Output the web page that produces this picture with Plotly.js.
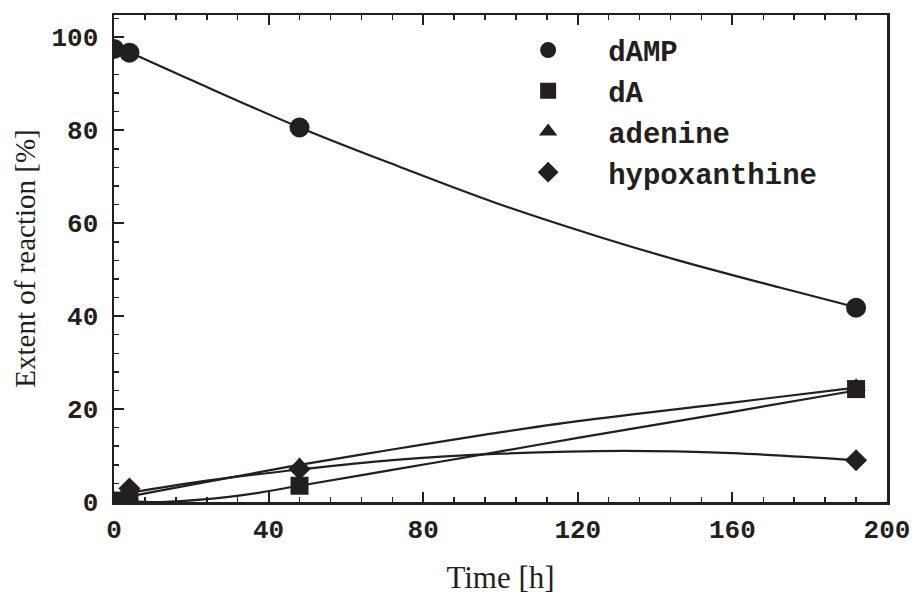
<!DOCTYPE html>
<html>
<head>
<meta charset="utf-8">
<script src="https://cdn.plot.ly/plotly-3.0.1.min.js"></script>
<style>html,body{margin:0;padding:0;background:#fff;}#chart{width:912px;height:595px;}</style>
</head>
<body>
<div id="chart"></div>
<script>
// Measured data points
const hours = [0, 4, 48, 192];
const dAMP = [97.5, 96.7, 80.6, 41.8];
const dA = [0.3, 0.5, 3.5, 24.3];
const adenine = [0.2, 0.8, 7.8, 24.8];
const hypoxanthine = [0.0, 2.9, 7.1, 9.0];

// Fitted curves
const fitDAMPTime = [0, 4, 20, 48, 74, 99, 125, 146, 172, 192];
const fitDAMP = [98.3, 96.8, 90.8, 80.6, 72.1, 64.3, 57.2, 52.0, 46.2, 41.9];
const fitDATime = [4, 12, 24, 36, 48, 72, 100, 120, 160, 192];
const fitDA = [0.2, 0.0, 0.6, 1.8, 3.5, 6.9, 10.9, 13.8, 19.4, 24.0];
const fitAdenineTime = [4, 25, 48, 72, 96, 120, 160, 192];
const fitAdenine = [1.2, 4.5, 8.0, 11.3, 14.5, 17.4, 21.4, 24.6];
const fitHypTime = [4, 25, 48, 72, 100, 132, 160, 192];
const fitHyp = [2.0, 4.7, 7.0, 9.0, 10.4, 11.0, 10.5, 9.0];

const xTicks = [0, 40, 80, 120, 160, 200];
const yTicks = [0, 20, 40, 60, 80, 100];

const ink = '#231f20';

function fit(x, y) {
  return {x: x, y: y, mode: 'lines', type: 'scatter', showlegend: false,
    hoverinfo: 'skip', line: {color: ink, width: 2.2, shape: 'spline', smoothing: 1}};
}
function pts(name, y, symbol, size) {
  return {x: hours, y: y, name: name, mode: 'markers', type: 'scatter',
    marker: {symbol: symbol, size: size, color: ink}};
}

const data = [
  fit(fitDAMPTime, fitDAMP),
  fit(fitDATime, fitDA),
  fit(fitAdenineTime, fitAdenine),
  fit(fitHypTime, fitHyp),
  pts('dAMP', dAMP, 'circle', 20),
  pts('dA', dA, 'square', 18),
  pts('adenine', adenine, 'triangle-up', 17),
  pts('hypoxanthine', hypoxanthine, 'diamond', 17)
];

const tickFont = {family: 'Liberation Mono, Courier New, monospace', size: 26, weight: 'bold', color: ink};

const layout = {
  width: 912, height: 595,
  margin: {l: 114, r: 25, t: 15, b: 93},
  paper_bgcolor: '#fff', plot_bgcolor: '#fff',
  showlegend: true,
  legend: {
    x: 0.484, y: 0.98, xanchor: 'left', yanchor: 'top',
    bgcolor: 'rgba(0,0,0,0)', borderwidth: 0,
    itemwidth: 110,
    font: {family: 'Liberation Mono, Courier New, monospace', size: 29, weight: 'bold', color: ink}
  },
  xaxis: {
    range: [0, 200], tickvals: xTicks, ticktext: xTicks.map(String),
    ticks: 'inside', ticklen: 10, tickwidth: 2, tickcolor: ink,
    minor: {dtick: 8, ticks: 'inside', ticklen: 5, tickwidth: 1.5, tickcolor: ink},
    showline: true, linecolor: ink, linewidth: 2.5, mirror: 'ticks',
    showgrid: false, zeroline: false, ticklabeloverflow: 'allow',
    tickfont: tickFont, ticklabelstandoff: 2,
    title: {text: 'Time [h]', standoff: 28,
      font: {family: 'Liberation Serif, Times New Roman, serif', size: 31, color: ink}}
  },
  yaxis: {
    range: [0, 104.8], tickvals: yTicks, ticktext: yTicks.map(String),
    ticks: 'inside', ticklen: 10, tickwidth: 2, tickcolor: ink,
    minor: {dtick: 4, ticks: 'inside', ticklen: 5, tickwidth: 1.5, tickcolor: ink},
    showline: true, linecolor: ink, linewidth: 2.5, mirror: true,
    showgrid: false, zeroline: false,
    tickfont: tickFont, ticklabelstandoff: 8,
    title: {text: 'Extent of reaction [%]', standoff: 8,
      font: {family: 'Liberation Serif, Times New Roman, serif', size: 29, color: ink}}
  }
};

Plotly.newPlot('chart', data, layout, {displayModeBar: false, staticPlot: true});
</script>
</body>
</html>
